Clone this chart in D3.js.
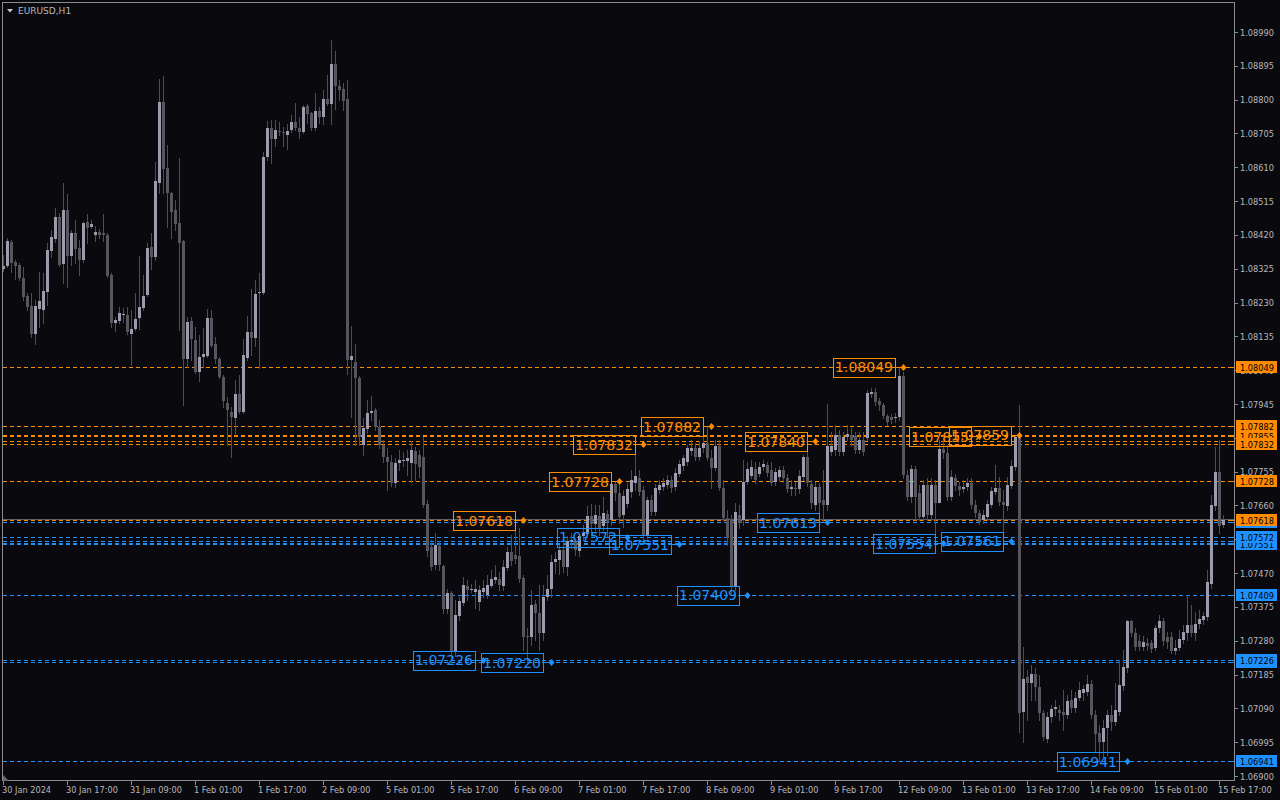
<!DOCTYPE html>
<html><head><meta charset="utf-8">
<script src="https://cdn.jsdelivr.net/npm/d3@7"></script>
<style>html,body{margin:0;padding:0;background:#0a0a0e;overflow:hidden}</style>
</head><body><svg id="c" width="1280" height="800"></svg>
<script>
const symbolTitle = "EURUSD,H1";
const open = [
1.08324,1.08333,1.08400,1.08344,1.08335,1.08299,1.08248,1.08220,1.08141,1.08212,
1.08209,1.08259,1.08375,1.08408,1.08470,1.08338,1.08490,1.08361,1.08425,1.08383,
1.08349,1.08456,1.08442,1.08420,1.08428,1.08425,1.08420,1.08307,1.08172,1.08178,
1.08198,1.08195,1.08141,1.08155,1.08186,1.08215,1.08251,1.08386,1.08358,1.08566,
1.08793,1.08608,1.08538,1.08490,1.08453,1.08403,1.08071,1.08178,1.08125,1.08035,
1.08077,1.08080,1.08186,1.08113,1.08071,1.08021,1.07948,1.07922,1.07905,1.07973,
1.07922,1.08074,1.08147,1.08130,1.08257,1.08257,1.08639,1.08720,1.08689,1.08712,
1.08709,1.08701,1.08715,1.08737,1.08720,1.08709,1.08782,1.08763,1.08720,1.08768,
1.08751,1.08802,1.08788,1.08900,1.08838,1.08830,1.08802,1.08068,1.08063,1.08018,
1.07830,1.07874,1.07919,1.07928,1.07880,1.07830,1.07796,1.07782,1.07723,1.07779,
1.07785,1.07785,1.07779,1.07813,1.07801,1.07796,1.07664,1.07543,1.07492,1.07546,
1.07490,1.07369,1.07414,1.07251,1.07349,1.07386,1.07433,1.07422,1.07416,1.07388,
1.07416,1.07408,1.07433,1.07450,1.07453,1.07433,1.07484,1.07529,1.07520,1.07518,
1.07456,1.07293,1.07290,1.07383,1.07358,1.07301,1.07402,1.07425,1.07501,1.07506,
1.07535,1.07487,1.07557,1.07560,1.07532,1.07574,1.07580,1.07630,1.07608,1.07630,
1.07602,1.07636,1.07619,1.07720,1.07695,1.07633,1.07664,1.07697,1.07723,1.07737,
1.07703,1.07577,1.07675,1.07641,1.07703,1.07712,1.07717,1.07731,1.07712,1.07748,
1.07771,1.07782,1.07813,1.07821,1.07796,1.07821,1.07835,1.07793,1.07765,1.07827,
1.07709,1.07624,1.07619,1.07431,1.07633,1.07619,1.07726,1.07742,1.07762,1.07748,
1.07768,1.07773,1.07759,1.07726,1.07740,1.07759,1.07737,1.07706,1.07709,1.07706,
1.07740,1.07796,1.07720,1.07661,1.07712,1.07675,1.07661,1.07810,1.07816,1.07858,
1.07810,1.07852,1.07858,1.07855,1.07816,1.07844,1.07849,1.07973,1.07978,1.07953,
1.07942,1.07911,1.07908,1.07905,1.07908,1.08023,1.07745,1.07683,1.07762,1.07695,
1.07627,1.07717,1.07633,1.07717,1.07667,1.07818,1.07807,1.07683,1.07737,1.07714,
1.07706,1.07712,1.07723,1.07661,1.07639,1.07619,1.07627,1.07661,1.07697,1.07709,
1.07669,1.07658,1.07714,1.07768,1.07852,1.07079,1.07178,1.07161,1.07186,1.07150,
1.07077,1.07003,1.07065,1.07088,1.07085,1.07079,1.07071,1.07113,1.07091,1.07119,
1.07133,1.07136,1.07158,1.07071,1.07020,1.06995,1.07034,1.07071,1.07051,1.07079,
1.07152,1.07203,1.07335,1.07301,1.07279,1.07262,1.07273,1.07273,1.07259,1.07315,
1.07335,1.07290,1.07290,1.07251,1.07259,1.07282,1.07301,1.07324,1.07301,1.07327,
1.07338,1.07346,1.07439,1.07658,1.07754,1.07605];
const high = [
1.08363,1.08411,1.08406,1.08349,1.08341,1.08330,1.08257,1.08257,1.08237,1.08316,
1.08313,1.08397,1.08434,1.08496,1.08481,1.08566,1.08535,1.08434,1.08462,1.08406,
1.08456,1.08479,1.08462,1.08445,1.08437,1.08479,1.08425,1.08313,1.08189,1.08217,
1.08215,1.08217,1.08209,1.08257,1.08361,1.08307,1.08397,1.08425,1.08625,1.08858,
1.08866,1.08673,1.08540,1.08518,1.08636,1.08406,1.08189,1.08189,1.08161,1.08139,
1.08158,1.08212,1.08209,1.08133,1.08077,1.08026,1.07964,1.07936,1.08012,1.08026,
1.08127,1.08192,1.08268,1.08293,1.08313,1.08653,1.08740,1.08743,1.08743,1.08737,
1.08723,1.08732,1.08757,1.08791,1.08751,1.08785,1.08788,1.08765,1.08819,1.08779,
1.08827,1.08869,1.08968,1.08937,1.08855,1.08847,1.08855,1.08164,1.08113,1.08023,
1.07905,1.07956,1.07967,1.07934,1.07900,1.07844,1.07821,1.07801,1.07793,1.07816,
1.07810,1.07816,1.07841,1.07824,1.07816,1.07852,1.07675,1.07563,1.07582,1.07560,
1.07492,1.07425,1.07419,1.07394,1.07402,1.07459,1.07450,1.07439,1.07450,1.07436,
1.07450,1.07464,1.07478,1.07492,1.07473,1.07506,1.07543,1.07577,1.07618,1.07596,
1.07464,1.07315,1.07422,1.07394,1.07436,1.07436,1.07464,1.07520,1.07529,1.07549,
1.07560,1.07574,1.07582,1.07569,1.07580,1.07605,1.07658,1.07664,1.07661,1.07661,
1.07683,1.07647,1.07728,1.07725,1.07720,1.07703,1.07723,1.07759,1.07832,1.07759,
1.07714,1.07683,1.07689,1.07720,1.07731,1.07737,1.07745,1.07742,1.07765,1.07787,
1.07801,1.07830,1.07844,1.07835,1.07841,1.07872,1.07882,1.07816,1.07844,1.07844,
1.07731,1.07647,1.07633,1.07667,1.07661,1.07787,1.07782,1.07787,1.07782,1.07782,
1.07787,1.07782,1.07782,1.07765,1.07771,1.07771,1.07748,1.07731,1.07726,1.07759,
1.07801,1.07840,1.07731,1.07726,1.07723,1.07759,1.07945,1.07866,1.07886,1.07872,
1.07866,1.07886,1.07877,1.07866,1.07866,1.07866,1.07984,1.07990,1.07990,1.07962,
1.07948,1.07917,1.07917,1.07919,1.08049,1.08035,1.07759,1.07773,1.07771,1.07717,
1.07731,1.07737,1.07737,1.07731,1.07844,1.07855,1.07830,1.07759,1.07748,1.07726,
1.07731,1.07737,1.07737,1.07675,1.07647,1.07647,1.07675,1.07712,1.07773,1.07740,
1.07703,1.07740,1.07787,1.07859,1.07942,1.07262,1.07197,1.07211,1.07203,1.07183,
1.07085,1.07079,1.07099,1.07113,1.07099,1.07141,1.07127,1.07141,1.07135,1.07164,
1.07155,1.07183,1.07169,1.07085,1.07043,1.07057,1.07085,1.07099,1.07161,1.07225,
1.07254,1.07338,1.07338,1.07315,1.07296,1.07293,1.07287,1.07282,1.07324,1.07352,
1.07344,1.07304,1.07304,1.07282,1.07310,1.07324,1.07408,1.07380,1.07360,1.07366,
1.07360,1.07478,1.07689,1.07824,1.07844,1.07633];
const low = [
1.08319,1.08330,1.08316,1.08296,1.08293,1.08237,1.08209,1.08133,1.08113,1.08161,
1.08172,1.08223,1.08358,1.08400,1.08333,1.08285,1.08274,1.08335,1.08341,1.08307,
1.08344,1.08397,1.08439,1.08403,1.08411,1.08403,1.08302,1.08161,1.08150,1.08172,
1.08175,1.08141,1.08054,1.08153,1.08155,1.08209,1.08248,1.08324,1.08349,1.08538,
1.08538,1.08442,1.08411,1.08434,1.08153,1.07942,1.08049,1.08068,1.08032,1.08009,
1.08049,1.08077,1.08105,1.08060,1.08018,1.07936,1.07830,1.07796,1.07858,1.07919,
1.07919,1.08068,1.08082,1.08108,1.08046,1.08254,1.08630,1.08622,1.08670,1.08701,
1.08670,1.08661,1.08709,1.08715,1.08692,1.08706,1.08734,1.08715,1.08715,1.08734,
1.08732,1.08785,1.08732,1.08774,1.08799,1.08771,1.08029,1.07908,1.07830,1.07830,
1.07801,1.07863,1.07900,1.07872,1.07821,1.07782,1.07703,1.07714,1.07712,1.07759,
1.07771,1.07745,1.07726,1.07731,1.07740,1.07655,1.07518,1.07478,1.07481,1.07478,
1.07358,1.07358,1.07226,1.07237,1.07338,1.07380,1.07394,1.07416,1.07372,1.07366,
1.07402,1.07400,1.07431,1.07442,1.07422,1.07422,1.07478,1.07492,1.07498,1.07445,
1.07254,1.07220,1.07268,1.07282,1.07254,1.07282,1.07394,1.07402,1.07470,1.07467,
1.07473,1.07464,1.07540,1.07520,1.07518,1.07563,1.07571,1.07577,1.07591,1.07577,
1.07591,1.07572,1.07605,1.07675,1.07610,1.07599,1.07655,1.07683,1.07703,1.07689,
1.07551,1.07569,1.07633,1.07633,1.07695,1.07703,1.07709,1.07697,1.07703,1.07742,
1.07759,1.07773,1.07801,1.07787,1.07787,1.07810,1.07787,1.07709,1.07759,1.07703,
1.07619,1.07549,1.07409,1.07422,1.07596,1.07605,1.07720,1.07737,1.07723,1.07742,
1.07759,1.07742,1.07717,1.07717,1.07731,1.07726,1.07697,1.07689,1.07689,1.07695,
1.07731,1.07714,1.07653,1.07647,1.07633,1.07613,1.07647,1.07801,1.07801,1.07801,
1.07801,1.07844,1.07830,1.07807,1.07807,1.07801,1.07844,1.07964,1.07942,1.07928,
1.07905,1.07886,1.07891,1.07894,1.07900,1.07737,1.07675,1.07669,1.07619,1.07619,
1.07619,1.07619,1.07619,1.07554,1.07703,1.07793,1.07675,1.07675,1.07703,1.07689,
1.07697,1.07703,1.07653,1.07627,1.07608,1.07610,1.07619,1.07655,1.07692,1.07661,
1.07561,1.07647,1.07709,1.07759,1.07023,1.06995,1.07057,1.07113,1.07113,1.07057,
1.07001,1.06995,1.07051,1.07071,1.07057,1.07029,1.07062,1.07079,1.07079,1.07113,
1.07113,1.07127,1.07062,1.06967,1.06941,1.06953,1.06958,1.07029,1.07043,1.07071,
1.07141,1.07192,1.07293,1.07254,1.07254,1.07254,1.07254,1.07248,1.07254,1.07304,
1.07268,1.07259,1.07245,1.07242,1.07254,1.07273,1.07282,1.07293,1.07282,1.07315,
1.07327,1.07338,1.07428,1.07647,1.07582,1.07599];
const close = [
1.08333,1.08403,1.08341,1.08333,1.08299,1.08245,1.08217,1.08141,1.08220,1.08234,
1.08262,1.08378,1.08414,1.08470,1.08335,1.08490,1.08361,1.08425,1.08380,1.08349,
1.08453,1.08439,1.08451,1.08428,1.08420,1.08420,1.08304,1.08172,1.08181,1.08200,
1.08199,1.08147,1.08155,1.08184,1.08217,1.08248,1.08383,1.08358,1.08571,1.08793,
1.08605,1.08538,1.08484,1.08451,1.08397,1.08071,1.08175,1.08127,1.08035,1.08077,
1.08085,1.08186,1.08108,1.08071,1.08021,1.07953,1.07928,1.07908,1.07973,1.07922,
1.08082,1.08147,1.08130,1.08254,1.08259,1.08639,1.08720,1.08689,1.08715,1.08709,
1.08706,1.08712,1.08737,1.08720,1.08709,1.08779,1.08760,1.08720,1.08768,1.08751,
1.08802,1.08788,1.08900,1.08838,1.08827,1.08796,1.08068,1.08080,1.08018,1.07852,
1.07877,1.07919,1.07925,1.07880,1.07830,1.07796,1.07782,1.07723,1.07779,1.07787,
1.07787,1.07793,1.07816,1.07776,1.07768,1.07661,1.07532,1.07487,1.07549,1.07492,
1.07369,1.07414,1.07251,1.07352,1.07391,1.07436,1.07422,1.07425,1.07425,1.07422,
1.07428,1.07436,1.07453,1.07459,1.07436,1.07487,1.07529,1.07504,1.07509,1.07453,
1.07290,1.07290,1.07380,1.07358,1.07301,1.07402,1.07425,1.07501,1.07509,1.07535,
1.07487,1.07560,1.07563,1.07535,1.07574,1.07582,1.07630,1.07608,1.07633,1.07596,
1.07639,1.07613,1.07720,1.07695,1.07627,1.07686,1.07706,1.07731,1.07742,1.07697,
1.07577,1.07675,1.07641,1.07709,1.07717,1.07723,1.07731,1.07709,1.07751,1.07776,
1.07793,1.07821,1.07821,1.07796,1.07821,1.07835,1.07793,1.07765,1.07827,1.07709,
1.07624,1.07569,1.07431,1.07641,1.07610,1.07726,1.07762,1.07768,1.07731,1.07768,
1.07776,1.07751,1.07723,1.07754,1.07759,1.07737,1.07706,1.07712,1.07706,1.07742,
1.07796,1.07723,1.07667,1.07712,1.07667,1.07661,1.07827,1.07827,1.07858,1.07810,
1.07852,1.07860,1.07844,1.07816,1.07844,1.07810,1.07976,1.07978,1.07950,1.07942,
1.07911,1.07894,1.07900,1.07908,1.08023,1.07745,1.07683,1.07762,1.07683,1.07627,
1.07717,1.07633,1.07717,1.07667,1.07818,1.07807,1.07683,1.07740,1.07714,1.07703,
1.07712,1.07723,1.07661,1.07639,1.07613,1.07633,1.07664,1.07700,1.07709,1.07669,
1.07661,1.07717,1.07771,1.07852,1.07077,1.07172,1.07161,1.07186,1.07150,1.07077,
1.07009,1.07065,1.07088,1.07093,1.07077,1.07071,1.07110,1.07091,1.07119,1.07141,
1.07144,1.07158,1.07071,1.07017,1.06995,1.07034,1.07071,1.07051,1.07085,1.07155,
1.07206,1.07335,1.07301,1.07262,1.07262,1.07276,1.07265,1.07256,1.07315,1.07335,
1.07279,1.07276,1.07251,1.07259,1.07284,1.07304,1.07324,1.07301,1.07327,1.07341,
1.07349,1.07445,1.07661,1.07754,1.07602,1.07619];

const timeLabels = ["30 Jan 2024","30 Jan 17:00","31 Jan 09:00","1 Feb 01:00","1 Feb 17:00","2 Feb 09:00","5 Feb 01:00","5 Feb 17:00","6 Feb 09:00","7 Feb 01:00","7 Feb 17:00","8 Feb 09:00","9 Feb 01:00","9 Feb 17:00","12 Feb 09:00","13 Feb 01:00","13 Feb 17:00","14 Feb 09:00","15 Feb 01:00","15 Feb 17:00"];
const timeLabelBars = [0,16,32,48,64,80,96,112,128,144,160,176,192,208,224,240,256,272,288,304];
const priceTicks = [1.08990,1.08895,1.08800,1.08705,1.08610,1.08515,1.08420,1.08325,1.08230,1.08135,1.08040,1.07945,1.07850,1.07755,1.07660,1.07565,1.07470,1.07375,1.07280,1.07185,1.07090,1.06995,1.06900];

const resistanceLevels = [1.08049,1.07882,1.07859,1.07855,1.07840,1.07832,1.07728,1.07618];
const resistanceBars   = [225,177,254,244,203,160,154,130];
const supportLevels = [1.07613,1.07572,1.07561,1.07554,1.07551,1.07409,1.07226,1.07220,1.06941];
const supportBars   = [206,156,252,235,169,186,120,137,281];
// draw order of price-axis tags (later ones sit on top)
const axisTagOrder = [1.07859,1.07840,1.07855,1.07882,1.07832,1.07613,1.07618,1.07561,1.07554,1.07551,1.07572,1.07220,1.07226,1.07409,1.06941,1.08049,1.07728];

const BG="#0a0a0e", FRAME="#8c8c8c", TXT="#b8b8be";
const ORANGE="#ff8c00", BLUE="#1e90ff";
const BULL="#9c9cac", BEAR="#56565c", WICK="#4e4e55";
const L=2.5,T=2.5,R=1234.5,B=780.5;

const svg=d3.select("#c");
svg.append("rect").attr("width",1280).attr("height",800).attr("fill",BG);

const x=d3.scaleLinear().domain([0,305]).range([3,1223]);
const y=d3.scaleLinear().domain([1.069,1.0899]).range([776,32]);

svg.append("clipPath").attr("id","plot").append("rect").attr("x",3).attr("y",3).attr("width",1231).attr("height",777);
const plot=svg.append("g").attr("clip-path","url(#plot)");

const levels=[...resistanceLevels.map((p,k)=>({p,bar:resistanceBars[k],col:ORANGE})),
              ...supportLevels.map((p,k)=>({p,bar:supportBars[k],col:BLUE}))];

// dashed level lines
plot.selectAll("line.lvl").data(levels).join("line")
  .attr("x1",3).attr("x2",1234).attr("y1",d=>Math.round(y(d.p))+0.5).attr("y2",d=>Math.round(y(d.p))+0.5)
  .attr("stroke",d=>d.col).attr("stroke-width",1).attr("stroke-dasharray","4,3").attr("shape-rendering","crispEdges");

// bid line
const last=close[close.length-1];
plot.append("line").attr("x1",3).attr("x2",1234).attr("y1",Math.round(y(last))-0.5).attr("y2",Math.round(y(last))-0.5)
  .attr("stroke","#606066").attr("stroke-width",1).attr("shape-rendering","crispEdges");

// candles
const bars=d3.range(open.length).map(i=>({i,o:open[i],h:high[i],l:low[i],c:close[i]}));
plot.selectAll("rect.wick").data(bars).join("rect").attr("class","wick")
  .attr("x",d=>x(d.i)).attr("width",1)
  .attr("y",d=>Math.round(y(d.h)))
  .attr("height",d=>Math.max(1,Math.round(y(d.l))-Math.round(y(d.h))+1))
  .attr("fill",WICK).attr("shape-rendering","crispEdges");
plot.selectAll("rect.body").data(bars).join("rect").attr("class","body")
  .attr("x",d=>x(d.i)-1).attr("width",3)
  .attr("y",d=>Math.round(y(Math.max(d.o,d.c))))
  .attr("height",d=>Math.max(1,Math.round(y(Math.min(d.o,d.c)))-Math.round(y(Math.max(d.o,d.c)))))
  .attr("fill",d=>d.c>=d.o?BULL:BEAR).attr("shape-rendering","crispEdges");

// level label boxes
const lab=plot.selectAll("g.lab").data(levels).join("g").attr("class","lab");
lab.each(function(d){
  const g=d3.select(this);
  const ax=x(d.bar), ly=y(d.p);
  const t=g.append("text").attr("font-family","DejaVu Sans").attr("font-size",14)
    .attr("fill",d.col).text(d.p.toFixed(5));
  const tw=t.node().getComputedTextLength();
  const right=ax-8, left=right-tw-4;
  t.attr("x",left+2).attr("y",ly+5.5);
  g.insert("rect","text").attr("x",Math.round(left)+0.5).attr("y",Math.round(ly-9)+0.5)
    .attr("width",Math.round(tw+4)).attr("height",19).attr("fill","none").attr("stroke",d.col);
  g.append("line").attr("x1",Math.round(right)+0.5).attr("x2",ax+2).attr("y1",Math.round(ly)+0.5).attr("y2",Math.round(ly)+0.5).attr("stroke",d.col);
  g.append("path").attr("d",`M${ax+0.5},${Math.round(ly)-3}L${ax+3.5},${Math.round(ly)+0.5}L${ax+0.5},${Math.round(ly)+4}L${ax-2.5},${Math.round(ly)+0.5}Z`).attr("fill",d.col);
});

// frame
svg.append("path").attr("d",`M${L},${B}V${T}H${R}V${B}H${L}`).attr("fill","none").attr("stroke",FRAME).attr("shape-rendering","crispEdges");
svg.append("path").attr("d","M3,775L3,781L9,781Z").attr("fill","#6a6a70");

// price axis
const pa=svg.append("g");
pa.selectAll("line").data(priceTicks).join("line")
  .attr("x1",1235).attr("x2",1238).attr("y1",d=>Math.round(y(d))+0.5).attr("y2",d=>Math.round(y(d))+0.5)
  .attr("stroke",FRAME).attr("shape-rendering","crispEdges");
pa.selectAll("text").data(priceTicks).join("text")
  .attr("x",1240).attr("y",d=>y(d)+3.5).attr("font-family","DejaVu Sans").attr("font-size",8.2).attr("fill",TXT)
  .text(d=>d.toFixed(5));

// price-axis tags for levels
const tagData=axisTagOrder.map(p=>levels.find(l=>l.p===p));
const tg=svg.selectAll("g.tag").data(tagData).join("g").attr("class","tag");
tg.append("rect").attr("x",1236).attr("y",d=>Math.round(y(d.p))-6).attr("width",41).attr("height",12).attr("fill",d=>d.col);
tg.append("text").attr("x",1240).attr("y",d=>Math.round(y(d.p))+3.5).attr("font-family","DejaVu Sans").attr("font-size",8.2).attr("fill","#000").text(d=>d.p.toFixed(5));
tg.append("line").attr("x1",1231).attr("x2",1234).attr("y1",d=>Math.round(y(d.p))+0.5).attr("y2",d=>Math.round(y(d.p))+0.5).attr("stroke",d=>d.col);

// time axis
const ta=svg.append("g");
ta.selectAll("line").data(timeLabelBars).join("line")
  .attr("x1",d=>x(d)+0.5).attr("x2",d=>x(d)+0.5).attr("y1",781).attr("y2",785)
  .attr("stroke",FRAME).attr("shape-rendering","crispEdges");
ta.selectAll("text").data(timeLabels).join("text")
  .attr("x",(d,k)=>x(timeLabelBars[k])-1).attr("y",793).attr("font-family","DejaVu Sans").attr("font-size",8.2).attr("fill",TXT)
  .text(d=>d);

// title
svg.append("path").attr("d","M7,9H13L10,12.5Z").attr("fill","#c8c8c8");
svg.append("text").attr("x",18).attr("y",14).attr("font-family","DejaVu Sans").attr("font-size",9).attr("fill",TXT).text(symbolTitle);
</script></body></html>
